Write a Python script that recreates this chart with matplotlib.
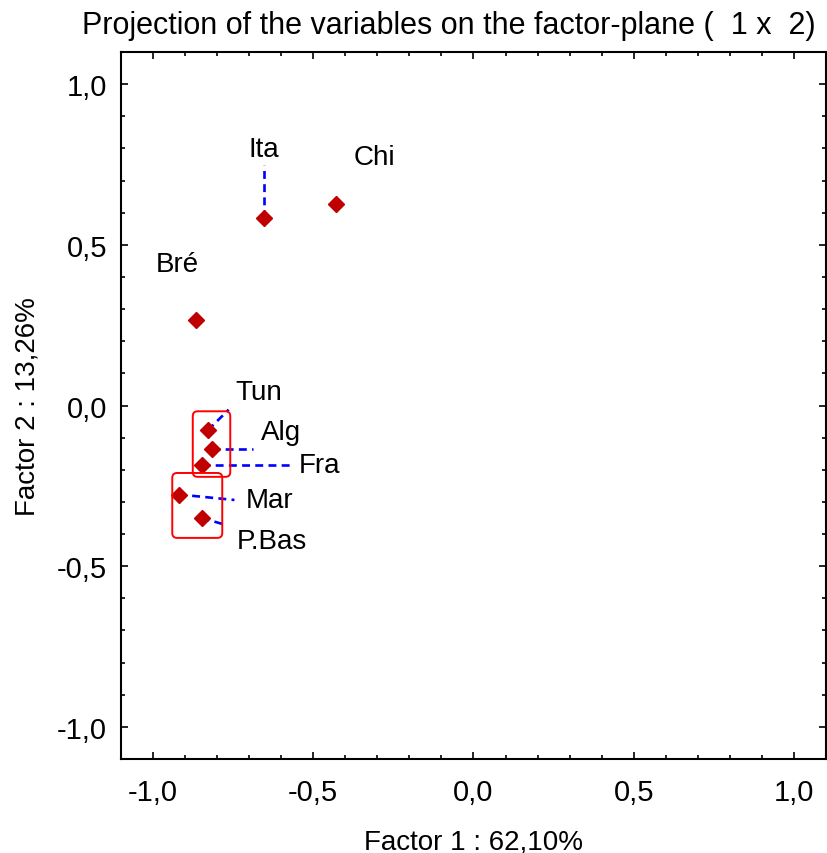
import matplotlib
matplotlib.use('Agg')
import matplotlib.pyplot as plt
from matplotlib.patches import FancyBboxPatch
from matplotlib.ticker import MultipleLocator, FuncFormatter

plt.rcParams['font.family'] = ['Liberation Sans', 'DejaVu Sans']

# coordonnées des variables sur le plan factoriel (1 x 2)
names = ['Ita', 'Chi', 'Bré', 'Tun', 'Alg', 'Fra', 'Mar', 'P.Bas']
f1 = [-0.655, -0.428, -0.865, -0.829, -0.815, -0.848, -0.919, -0.848]
f2 = [0.583, 0.626, 0.266, -0.077, -0.134, -0.186, -0.277, -0.350]

# position des étiquettes
lab_x = [-0.655, -0.309, -0.923, -0.670, -0.600, -0.481, -0.636, -0.628]
lab_y = [0.797, 0.773, 0.441, 0.041, -0.083, -0.184, -0.293, -0.423]
# extrémité des traits pointillés (None = pas de trait)
lead_x = [-0.655, None, None, -0.764, -0.689, -0.569, -0.746, -0.772]
lead_y = [0.750, None, None, -0.013, -0.134, -0.186, -0.294, -0.372]

# cadres rouges autour des groupes
boxes = [(-0.876, -0.222, 0.117, 0.204), (-0.940, -0.412, 0.156, 0.202)]

fig = plt.figure(figsize=(8.27, 8.54), dpi=100)
ax = fig.add_axes([0.1463, 0.1101, 0.8525, 0.8278])

for i in range(len(names)):
    if lead_x[i] is not None:
        ax.plot([f1[i], lead_x[i]], [f2[i], lead_y[i]], color='#0000ff',
                ls=(0, (3, 2)), lw=1.9, zorder=2)

ax.plot(f1, f2, ls='none', marker='D', ms=8.5, color='#c00000',
        markeredgecolor='#c00000', zorder=3)

for i in range(len(names)):
    ax.text(lab_x[i], lab_y[i], names[i], fontsize=20, ha='center', va='center')

for bx, by, bw, bh in boxes:
    ax.add_patch(FancyBboxPatch((bx, by), bw, bh,
                                boxstyle='round,pad=0,rounding_size=0.015',
                                fill=False, edgecolor='#ff0000', lw=1.4, zorder=4))

ax.set_xlim(-1.1, 1.1)
ax.set_ylim(-1.1, 1.1)
ax.xaxis.set_major_locator(MultipleLocator(0.5))
ax.yaxis.set_major_locator(MultipleLocator(0.5))
ax.xaxis.set_minor_locator(MultipleLocator(0.1))
ax.yaxis.set_minor_locator(MultipleLocator(0.1))
fmt = FuncFormatter(lambda v, p: ('%.1f' % v).replace('.', ','))
ax.xaxis.set_major_formatter(fmt)
ax.yaxis.set_major_formatter(fmt)
ax.tick_params(which='both', direction='in', top=True, right=True, width=1.2)
ax.tick_params(which='major', length=5, labelsize=21)
ax.tick_params(axis='x', which='major', pad=14)
ax.tick_params(axis='y', which='major', pad=10)
ax.tick_params(which='minor', length=3)
for s in ax.spines.values():
    s.set_linewidth(1.5)

ax.set_xlabel('Factor 1 : 62,10%', fontsize=20, labelpad=16)
ax.set_ylabel('Factor 2 : 13,26%', fontsize=20, labelpad=12)
ax.set_title('Projection of the variables on the factor-plane (  1 x  2)',
             fontsize=22, x=0.4645, pad=14)

fig.savefig('out.png', dpi=100)
